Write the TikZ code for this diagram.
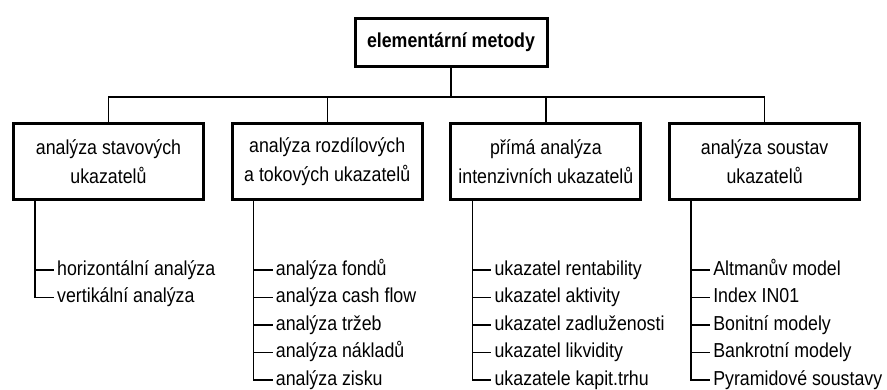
\documentclass[tikz,border=0pt]{standalone}
\usepackage{fontspec}
\setmainfont{Liberation Sans}[FakeStretch=0.88]
\usetikzlibrary{positioning}

\begin{document}
\begin{tikzpicture}[x=1pt,y=-1pt,on grid,node distance=27.5pt and 218.7pt,
    font=\fontsize{20.2pt}{29pt}\selectfont,
    topbox/.style={draw,line width=3pt,minimum width=192pt,minimum height=48pt,font=\fontsize{20.2pt}{29pt}\selectfont\bfseries},
    groupbox/.style={draw,line width=3pt,minimum width=190pt,minimum height=76pt,align=center},
    item/.style={anchor=west,inner xsep=3pt,inner ysep=0pt,text height=15pt,text depth=4.5pt},
    tree/.style={line width=1.3pt}]
  \useasboundingbox (0,0) rectangle (887,390);

  \node[topbox] (top) at (451,42.5) {elementární metody};
  \node[groupbox] (g1) at (108.5,161.5) {analýza stavových\\ukazatelů};
  \node[groupbox] (g2) [right=of g1] {analýza rozdílových\\a tokových ukazatelů};
  \node[groupbox] (g3) [right=of g2] {přímá analýza\\intenzivních ukazatelů};
  \node[groupbox] (g4) [right=of g3] {analýza soustav\\ukazatelů};

  \coordinate (bus) at (0,97);
  \coordinate (row) at (0,270);
  \coordinate (l1) at ([xshift=23pt]g1.south west);
  \coordinate (l2) at ([xshift=23pt]g2.south west);
  \coordinate (l3) at ([xshift=23pt]g3.south west);
  \coordinate (l4) at ([xshift=23pt]g4.south west);

  % stavove ukazatele
  \node[item,xshift=19pt] (a1) at (l1 |- row) {horizontální analýza};
  \node (a2) [below=of a1.west,item] {vertikální analýza};

  % rozdilove a tokove ukazatele
  \node[item,xshift=19pt] (b1) at (l2 |- row) {analýza fondů};
  \node (b2) [below=of b1.west,item] {analýza cash flow};
  \node (b3) [below=of b2.west,item] {analýza tržeb};
  \node (b4) [below=of b3.west,item] {analýza nákladů};
  \node (b5) [below=of b4.west,item] {analýza zisku};

  % pomerove ukazatele
  \node[item,xshift=19pt] (c1) at (l3 |- row) {ukazatel rentability};
  \node (c2) [below=of c1.west,item] {ukazatel aktivity};
  \node (c3) [below=of c2.west,item] {ukazatel zadluženosti};
  \node (c4) [below=of c3.west,item] {ukazatel likvidity};
  \node (c5) [below=of c4.west,item] {ukazatele kapit.trhu};

  % soustavy ukazatelu
  \node[item,xshift=19pt] (d1) at (l4 |- row) {Altmanův model};
  \node (d2) [below=of d1.west,item] {Index IN01};
  \node (d3) [below=of d2.west,item] {Bonitní modely};
  \node (d4) [below=of d3.west,item] {Bankrotní modely};
  \node (d5) [below=of d4.west,item] {Pyramidové soustavy};

  \draw[tree] (top) -- (top |- bus);
  \draw[tree] (g1) -- (g1 |- bus) -- (g4 |- bus) -- (g4);
  \draw[tree] (g2) -- (g2 |- bus);
  \draw[tree] (g3) -- (g3 |- bus);

  \draw[tree] (l1) |- (a2.west);
  \draw[tree] (l1 |- a1.west) -- (a1.west);

  \draw[tree] (l2) |- (b5.west);
  \draw[tree] (l2 |- b1.west) -- (b1.west);
  \draw[tree] (l2 |- b2.west) -- (b2.west);
  \draw[tree] (l2 |- b3.west) -- (b3.west);
  \draw[tree] (l2 |- b4.west) -- (b4.west);

  \draw[tree] (l3) |- (c5.west);
  \draw[tree] (l3 |- c1.west) -- (c1.west);
  \draw[tree] (l3 |- c2.west) -- (c2.west);
  \draw[tree] (l3 |- c3.west) -- (c3.west);
  \draw[tree] (l3 |- c4.west) -- (c4.west);

  \draw[tree] (l4) |- (d5.west);
  \draw[tree] (l4 |- d1.west) -- (d1.west);
  \draw[tree] (l4 |- d2.west) -- (d2.west);
  \draw[tree] (l4 |- d3.west) -- (d3.west);
  \draw[tree] (l4 |- d4.west) -- (d4.west);
\end{tikzpicture}
\end{document}
